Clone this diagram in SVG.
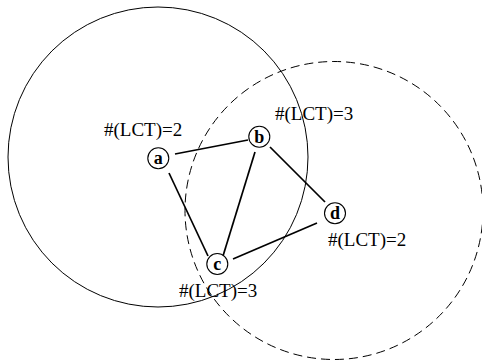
<svg xmlns="http://www.w3.org/2000/svg" width="482" height="363" viewBox="0 0 482 363">
  <style>
    .range { fill: none; stroke: #000; stroke-width: 1; }
    .dashed { stroke-dasharray: 9 5; }
    .edge { stroke: #000; stroke-width: 1.7; fill: none; }
    .node circle { fill: #fff; stroke: #000; stroke-width: 1.1; }
    .node text { font-family: "Liberation Serif", "Times New Roman", serif; font-weight: bold; font-size: 18px; text-anchor: middle; }
    .lct { font-family: "Liberation Serif", "Times New Roman", serif; font-size: 19px; }
  </style>
  <rect width="482" height="363" fill="#fff"/>

  <!-- transmission ranges -->
  <g id="ranges">
    <circle class="range" cx="158" cy="157" r="150"/>
    <circle class="range dashed" cx="334" cy="210.5" r="149"/>
  </g>

  <!-- links between nodes -->
  <g id="connectors">
    <line class="edge" x1="175" y1="154" x2="248" y2="140"/>
    <line class="edge" x1="169" y1="173" x2="208" y2="256"/>
    <line class="edge" x1="255" y1="152" x2="223" y2="256"/>
    <line class="edge" x1="270" y1="147" x2="325" y2="202"/>
    <line class="edge" x1="233" y1="259" x2="317" y2="223"/>
  </g>

  <g id="node-a" class="node">
    <circle cx="158.3" cy="158.3" r="10.5"/>
    <text x="158.3" y="164.3">a</text>
  </g>
  <g id="node-b" class="node">
    <circle cx="259.3" cy="136.7" r="10.5"/>
    <text x="259.3" y="142.7">b</text>
  </g>
  <g id="node-c" class="node">
    <circle cx="217.3" cy="264" r="10.5"/>
    <text x="217.3" y="270">c</text>
  </g>
  <g id="node-d" class="node">
    <circle cx="335" cy="213.3" r="10.5"/>
    <text x="335" y="219.3">d</text>
  </g>

  <!-- link-change counters -->
  <g id="labels">
    <text class="lct" x="104" y="136">#(LCT)=2</text>
    <text class="lct" x="275" y="120">#(LCT)=3</text>
    <text class="lct" x="328" y="246">#(LCT)=2</text>
    <text class="lct" x="179" y="297">#(LCT)=3</text>
  </g>
</svg>
